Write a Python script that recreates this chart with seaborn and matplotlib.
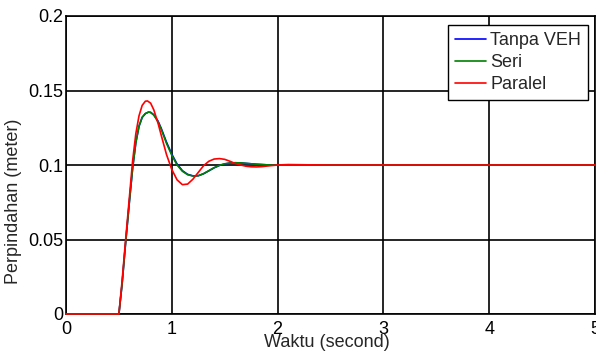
import numpy as np
import pandas as pd
import matplotlib
matplotlib.use("Agg")
import matplotlib.pyplot as plt
import seaborn as sns

# Step response samples (time in seconds, displacement in metres)
t_blue = [0.0, 0.5, 0.53, 0.56, 0.6, 0.63, 0.66, 0.69, 0.72, 0.75, 0.78, 0.8, 0.83,
          0.87, 0.9, 0.95, 1.0, 1.05, 1.1, 1.15, 1.2, 1.25, 1.3, 1.35, 1.4, 1.45,
          1.5, 1.55, 1.6, 1.65, 1.7, 1.8, 1.9, 2.0, 2.2, 2.5, 5.0]
y_blue = [0.0, 0.0, 0.020, 0.045, 0.076, 0.098, 0.115, 0.126, 0.132, 0.1345, 0.1355,
          0.1353, 0.1337, 0.1294, 0.1246, 0.1153, 0.1073, 0.1006, 0.0962, 0.0937,
          0.0927, 0.0928, 0.0941, 0.0961, 0.0981, 0.0997, 0.1007, 0.1013, 0.1015,
          0.1014, 0.1011, 0.1005, 0.1001, 0.0999, 0.0999, 0.1, 0.1]

t_green = [0.0, 0.5, 0.53, 0.56, 0.6, 0.63, 0.66, 0.69, 0.72, 0.75, 0.78, 0.8, 0.83,
           0.87, 0.9, 0.95, 1.0, 1.05, 1.1, 1.15, 1.2, 1.25, 1.3, 1.35, 1.4, 1.45,
           1.5, 1.55, 1.6, 1.65, 1.7, 1.8, 1.9, 2.0, 2.2, 2.5, 5.0]
y_green = [0.0, 0.0, 0.020, 0.045, 0.076, 0.098, 0.115, 0.126, 0.132, 0.1345, 0.1355,
           0.1353, 0.1335, 0.129, 0.124, 0.1145, 0.1065, 0.100, 0.0958, 0.0935,
           0.0926, 0.0928, 0.0942, 0.0962, 0.0982, 0.0998, 0.1008, 0.1013, 0.1015,
           0.1014, 0.1011, 0.1005, 0.1001, 0.0999, 0.0999, 0.1, 0.1]

t_red = [0.0, 0.5, 0.53, 0.56, 0.6, 0.63, 0.66, 0.69, 0.72, 0.75, 0.77, 0.8, 0.83,
         0.87, 0.9, 0.95, 1.0, 1.05, 1.1, 1.15, 1.2, 1.25, 1.3, 1.35, 1.4, 1.45,
         1.5, 1.55, 1.6, 1.65, 1.7, 1.75, 1.8, 1.85, 1.9, 2.0, 2.1, 2.3, 2.5, 5.0]
y_red = [0.0, 0.0, 0.022, 0.047, 0.079, 0.103, 0.121, 0.133, 0.140, 0.1428, 0.143,
         0.1415, 0.137, 0.128, 0.120, 0.107, 0.097, 0.090, 0.0868, 0.0872, 0.0905,
         0.0950, 0.0995, 0.1025, 0.1040, 0.1043, 0.1038, 0.1025, 0.1010, 0.1000,
         0.0992, 0.0988, 0.0987, 0.0989, 0.0993, 0.1000, 0.1003, 0.1001, 0.1, 0.1]

labels = ["Tanpa VEH", "Seri", "Paralel"]
colors = ["#0000ff", "#008000", "#ff0000"]
x_ticks = [0, 1, 2, 3, 4, 5]
y_ticks = [0, 0.05, 0.1, 0.15, 0.2]
y_tick_labels = ["0", "0.05", "0.1", "0.15", "0.2"]

FS = 13

sns.set_style("white")
plt.rcParams["font.family"] = ["Liberation Sans", "DejaVu Sans"]

fig = plt.figure(figsize=(5.96, 3.53), dpi=100)
ax = fig.add_axes([66 / 596, 1 - 314 / 353, 529 / 596, 298 / 353])

series = [(t_blue, y_blue), (t_green, y_green), (t_red, y_red)]
for i, ((t, y), lab, col) in enumerate(zip(series, labels, colors)):
    df = pd.DataFrame({"t": t, "y": y})
    sns.lineplot(data=df, x="t", y="y", ax=ax, color=col, label=lab,
                 linewidth=1.2, estimator=None, sort=False)
    ax.lines[-1].set_clip_on(False)
    ax.lines[-1].set_zorder(3 + i)

ax.set_xlim(0, 5)
ax.set_ylim(0, 0.2)
ax.set_xticks(x_ticks)
ax.set_xticklabels([str(v) for v in x_ticks])
ax.set_yticks(y_ticks)
ax.set_yticklabels(y_tick_labels)
ax.grid(True, color="black", linewidth=1.2, linestyle="-")
ax.set_axisbelow(True)
for s in ax.spines.values():
    s.set_color("black")
    s.set_linewidth(1.2)
ax.tick_params(axis="both", labelsize=FS, length=0, colors="black")
ax.tick_params(axis="y", pad=2)
ax.tick_params(axis="x", pad=5)

ax.set_xlabel("Waktu (second)", fontsize=FS)
ax.set_ylabel("Perpindahan (meter)", fontsize=FS)
ax.xaxis.set_label_coords(0.494, -0.066)
ax.yaxis.set_label_coords(-0.083, 0.379)

leg = ax.legend(loc="upper right", bbox_to_anchor=(0.987, 0.970), fontsize=FS,
                frameon=True, fancybox=False, framealpha=1, edgecolor="black",
                handlelength=1.7, handletextpad=0.25, labelspacing=0.28,
                borderpad=0.4, borderaxespad=0)
leg.get_frame().set_linewidth(1.0)
leg.set_zorder(10)

fig.savefig("out.png", dpi=100)
